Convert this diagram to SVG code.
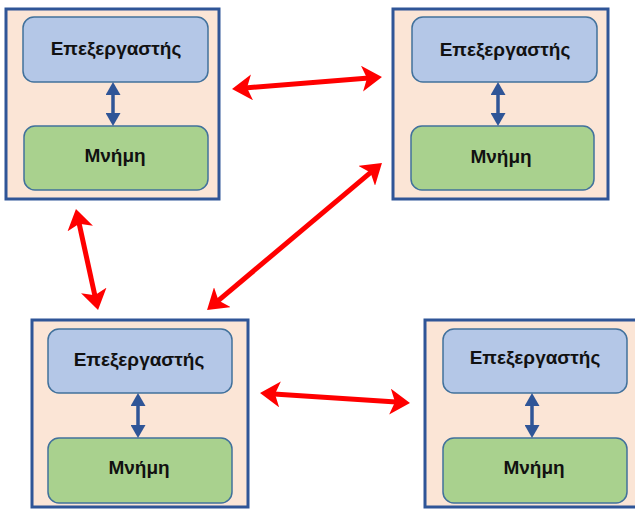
<svg xmlns="http://www.w3.org/2000/svg" width="635" height="509" viewBox="0 0 635 509">
  <defs>
    <style>
      .frame { fill: #FBE5D6; stroke: #2F5597; stroke-width: 3; }
      .cpu { fill: #B4C7E7; stroke: #41719C; stroke-width: 1.5; }
      .mem { fill: #A9D18E; stroke: #41719C; stroke-width: 1.5; }
      .lbl { font-family: "Liberation Sans", Arial, sans-serif; font-size: 19px; font-weight: bold; fill: #111111; text-anchor: middle; }
      .bus { stroke: #2F5597; stroke-width: 3.5; fill: none; marker-start: url(#blueHead); marker-end: url(#blueHead); }
      .link { stroke: #FF0000; stroke-width: 5; fill: none; marker-start: url(#redHead); marker-end: url(#redHead); }
    </style>
    <marker id="redHead" viewBox="0 0 20 26" refX="10" refY="13" markerWidth="20" markerHeight="26" markerUnits="userSpaceOnUse" orient="auto-start-reverse">
      <path d="M0,0 L20,13 L0,26 L5,13 Z" fill="#FF0000"/>
    </marker>
    <marker id="blueHead" viewBox="0 0 13 15" refX="6" refY="7.5" markerWidth="13" markerHeight="15" markerUnits="userSpaceOnUse" orient="auto-start-reverse">
      <path d="M0,0 L13,7.5 L0,15 Z" fill="#2F5597"/>
    </marker>
  </defs>

  <!-- top-left computer -->
  <g id="node-top-left">
    <rect class="frame" x="6" y="9" width="213" height="190"/>
    <rect class="cpu" x="23" y="17" width="185" height="65" rx="11"/>
    <rect class="mem" x="24" y="126" width="184" height="64" rx="11"/>
    <line class="bus" x1="113" y1="89" x2="113" y2="119"/>
    <text class="lbl" x="116" y="55">Επεξεργαστής</text>
    <text class="lbl" x="115" y="162">Μνήμη</text>
  </g>

  <!-- top-right computer -->
  <g id="node-top-right">
    <rect class="frame" x="393" y="9" width="215" height="190"/>
    <rect class="cpu" x="412" y="17" width="185" height="65" rx="11"/>
    <rect class="mem" x="411" y="126" width="183" height="64" rx="11"/>
    <line class="bus" x1="498" y1="89" x2="498" y2="119"/>
    <text class="lbl" x="505" y="56">Επεξεργαστής</text>
    <text class="lbl" x="501" y="163">Μνήμη</text>
  </g>

  <!-- bottom-left computer -->
  <g id="node-bottom-left">
    <rect class="frame" x="32" y="320" width="216" height="187"/>
    <rect class="cpu" x="48" y="329" width="184" height="64" rx="11"/>
    <rect class="mem" x="48" y="438" width="184" height="65" rx="11"/>
    <line class="bus" x1="138" y1="400" x2="138" y2="431"/>
    <text class="lbl" x="139" y="366">Επεξεργαστής</text>
    <text class="lbl" x="139" y="474">Μνήμη</text>
  </g>

  <!-- bottom-right computer (runs past the right edge) -->
  <g id="node-bottom-right">
    <rect class="frame" x="425" y="320" width="216" height="187"/>
    <rect class="cpu" x="443" y="329" width="184" height="64" rx="11"/>
    <rect class="mem" x="443" y="438" width="184" height="65" rx="11"/>
    <line class="bus" x1="532" y1="400" x2="532" y2="431"/>
    <text class="lbl" x="535" y="364">Επεξεργαστής</text>
    <text class="lbl" x="534" y="474">Μνήμη</text>
  </g>

  <!-- network links between computers -->
  <g id="connectors">
    <line class="link" x1="242" y1="88.2" x2="372" y2="77.8"/>
    <line class="link" x1="78.1" y1="218.8" x2="95.9" y2="300.2"/>
    <line class="link" x1="374.3" y1="169.4" x2="214.7" y2="303.6"/>
    <line class="link" x1="270" y1="393.7" x2="400" y2="402.3"/>
  </g>
</svg>
